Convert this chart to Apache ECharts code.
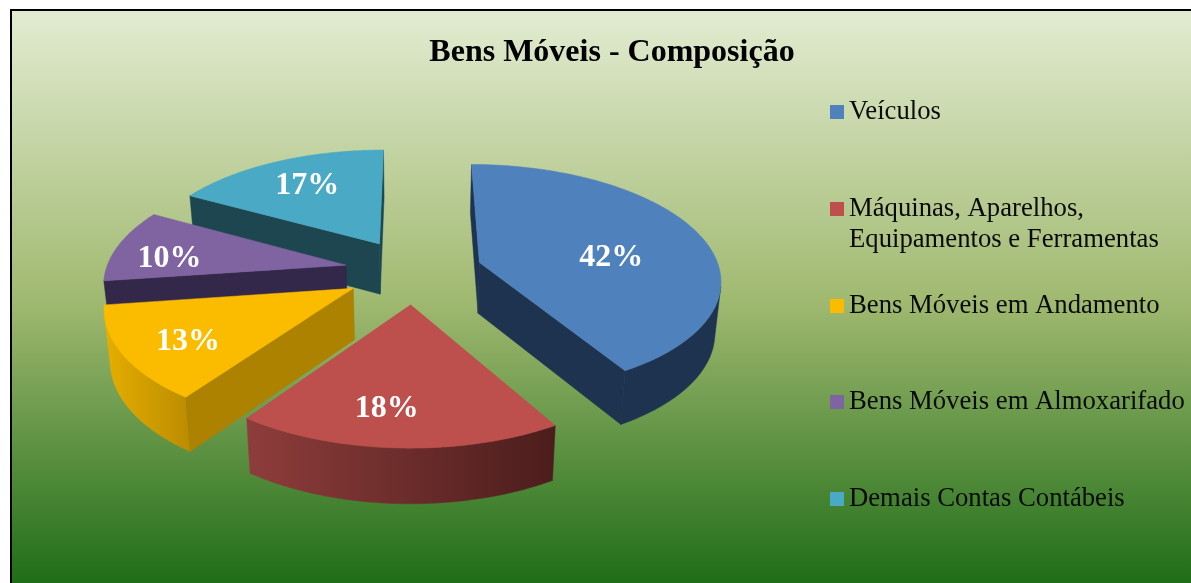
<!DOCTYPE html>
<html>
<head>
<meta charset="utf-8">
<style>html,body{margin:0;padding:0;background:#fff;}#c{width:1191px;height:583px;}</style>
<script src="https://cdn.jsdelivr.net/npm/echarts@6/dist/echarts.min.js"></script>
</head>
<body>
<div id="c"></div>
<script>
const categories = ['Veículos', 'Máquinas, Aparelhos,\nEquipamentos e Ferramentas', 'Bens Móveis em Andamento', 'Bens Móveis em Almoxarifado', 'Demais Contas Contábeis'];
const shares = [41.5, 18.3, 13, 10.2, 17];
const percentLabels = ['42%', '18%', '13%', '10%', '17%'];

const topColors = ['#4f81bd', '#bd4f4c', '#fbbc00', '#8064a2', '#4aa9c4'];
const edgeColors = ['#1e3350', '#4b1d1c', '#ac8200', '#33274a', '#1d4651'];
const arcFrom = ['#1e3350', '#8e3d3b', '#e6ae00', '#33274a', '#1d4651'];
const arcTo = ['#1e3350', '#4b1d1c', '#bb8c00', '#33274a', '#1d4651'];
const labelReach = [0.56, 0.76, 0.75, 0.75, 0.68];
const labelTurn = [11, 4, -3, -6, 0];
const legendTops = [96.5, 162.5, 290.5, 386.5, 483.5];
const legendLead = ['', '\n', '', '', ''];
const paintOrder = [4, 3, 0, 2, 1];

const view = {cx: 413.5, cy: 271, R: 240.5, burst: 69, tilt: 0.472, persp: 0.000567, drop: 51, taper: 0.02};
const total = shares.reduce((a, b) => a + b, 0);
const rad = d => d * Math.PI / 180;

function project(theta, r, mid, z) {
  const X = view.burst * Math.sin(mid) + r * Math.sin(theta);
  const Y = view.burst * Math.cos(mid) + r * Math.cos(theta);
  const s = 1 / (1 + view.persp * Y);
  return [view.cx + X * s * (1 - view.taper * z), view.cy - view.tilt * Y * s + view.drop * z * Math.pow(s, 0.45)];
}
function facing(a, b, c, d) {
  const q = [a, b, c, d];
  let sum = 0;
  for (let i = 0; i < 4; i++) {
    const p = q[i], n = q[(i + 1) % 4];
    sum += p[0] * n[1] - n[0] * p[1];
  }
  return sum < 0;
}
function sliceItem(index) {
  return function (params, api) {
    const share = api.value(0);
    let before = 0;
    for (let i = 0; i < index; i++) before += shares[i];
    const a0 = rad(before / total * 360), a1 = rad((before + share) / total * 360), mid = (a0 + a1) / 2;
    const n = 60, top = [], low = [];
    for (let i = 0; i <= n; i++) {
      const t = a0 + (a1 - a0) * i / n;
      top.push(project(t, view.R, mid, 0));
      low.push(project(t, view.R, mid, 1));
    }
    const apex = project(0, 0, mid, 0), apexLow = project(0, 0, mid, 1);
    const children = [];
    const poly = (pts, fill) => children.push({type: 'polygon', shape: {points: pts}, style: {fill: fill, stroke: fill, lineWidth: 0.5}});
    let run = [];
    const flush = () => {
      if (!run.length) return;
      const pts = run.map(i => top[i]).concat(run.slice().reverse().map(i => low[i]));
      const xs = pts.map(p => p[0]);
      poly(pts, {type: 'linear', x: Math.min(...xs), y: 0, x2: Math.max(...xs), y2: 0, global: true,
        colorStops: [{offset: 0, color: arcFrom[index]}, {offset: 1, color: arcTo[index]}]});
      run = [];
    };
    for (let i = 0; i < n; i++) {
      if (facing(top[i], top[i + 1], low[i + 1], low[i])) {
        if (!run.length) run.push(i);
        run.push(i + 1);
      } else flush();
    }
    flush();
    if (facing(apex, top[0], low[0], apexLow)) poly([apex, top[0], low[0], apexLow], edgeColors[index]);
    if (facing(top[n], apex, apexLow, low[n])) poly([top[n], apex, apexLow, low[n]], edgeColors[index]);
    poly([apex].concat(top), topColors[index]);
    const lp = project(mid + rad(labelTurn[index]), view.R * labelReach[index], mid, 0);
    children.push({type: 'text', style: {text: percentLabels[index], x: lp[0], y: lp[1], fill: '#ffffff',
      font: 'bold 32px "Liberation Serif"', align: 'center', verticalAlign: 'middle'}});
    return {type: 'group', children: children};
  };
}

const chart = echarts.init(document.getElementById('c'), null, {renderer: 'canvas'});
chart.setOption({
  animation: false,
  backgroundColor: '#ffffff',
  graphic: [{
    type: 'rect', z: -10, silent: true,
    shape: {x: 11, y: 10, width: 1190, height: 583},
    style: {
      stroke: '#000000', lineWidth: 2,
      fill: {type: 'linear', x: 0, y: 0, x2: 0, y2: 1, colorStops: [
        {offset: 0, color: '#e3ecd2'}, {offset: 0.5, color: '#a0b970'}, {offset: 1, color: '#1a6a14'}]}
    }
  }],
  title: {
    text: 'Bens Móveis - Composição', left: 607, top: 32, textAlign: 'center',
    textStyle: {fontFamily: 'Liberation Serif', fontSize: 32, fontWeight: 'bold', color: '#000000'}
  },
  legend: categories.map((name, i) => ({
    data: [{name: name, icon: 'rect'}],
    left: 830, top: legendTops[i], padding: 0, orient: 'vertical', selectedMode: false,
    itemWidth: 14, itemHeight: 14,
    formatter: n => legendLead[i] + n,
    textStyle: {fontFamily: 'Liberation Serif', fontSize: 26.7, color: '#0a0a0a', lineHeight: 31}
  })),
  series: paintOrder.map(i => ({
    type: 'custom', name: categories[i], coordinateSystem: 'none',
    itemStyle: {color: topColors[i]},
    renderItem: sliceItem(i),
    data: [[shares[i]]]
  }))
});
</script>
</body>
</html>
